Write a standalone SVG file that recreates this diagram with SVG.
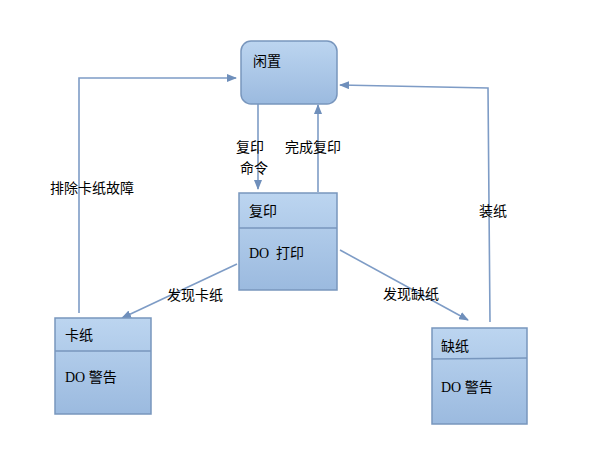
<svg xmlns="http://www.w3.org/2000/svg" width="611" height="463" viewBox="0 0 611 463">
<style>
.box{stroke:#7896bd;stroke-width:1.5;fill:url(#g)}
.div{stroke:#7896bd;stroke-width:1.5}
.ln{stroke:#7e9cc6;stroke-width:1.6;fill:none}
.t{font-family:"Noto Sans CJK SC",sans-serif;font-size:14px;fill:#000}
.d{font-family:"Liberation Serif","Noto Sans CJK SC",serif;font-size:14px;fill:#000}
</style>
<defs>
<linearGradient id="g" x1="0" y1="0" x2="0" y2="1">
<stop offset="0" stop-color="#bcd5f0"/>
<stop offset="1" stop-color="#9bbadf"/>
</linearGradient>
<marker id="a" markerWidth="10" markerHeight="8" refX="9" refY="4" orient="auto" markerUnits="userSpaceOnUse">
<path d="M0,0 L10,4 L0,8 Z" fill="#6f8fbb"/>
</marker>
</defs>
<rect width="611" height="463" fill="#fff"/>
<g id="connectors">
<path class="ln" d="M258,104 V189" marker-end="url(#a)"/>
<path class="ln" d="M318,192 V105" marker-end="url(#a)"/>
<path class="ln" d="M79,313 V78 H236" marker-end="url(#a)"/>
<path class="ln" d="M490,322 L488,88 L340,85" marker-end="url(#a)"/>
<path class="ln" d="M237,264 L122,318" marker-end="url(#a)"/>
<path class="ln" d="M340,250 L468,320" marker-end="url(#a)"/>
<text class="t" x="236" y="152">复印</text>
<text class="t" x="240" y="173">命令</text>
<text class="t" x="285" y="152">完成复印</text>
<text class="t" x="50" y="193">排除卡纸故障</text>
<text class="t" x="479" y="216">装纸</text>
<text class="t" x="167" y="300">发现卡纸</text>
<text class="t" x="383" y="299">发现缺纸</text>
</g>
<g id="idle">
<rect class="box" x="241" y="41" width="96" height="63" rx="10"/>
<text class="t" x="253" y="66">闲置</text>
</g>
<g id="copy">
<rect class="box" x="239" y="193" width="98" height="97"/>
<line class="div" x1="239" y1="228" x2="337" y2="228"/>
<text class="t" x="249" y="216">复印</text>
<text class="d" x="249" y="258">DO<tspan x="276" font-family="Noto Sans CJK SC">打印</tspan></text>
</g>
<g id="jam">
<rect class="box" x="55" y="318" width="96" height="96"/>
<line class="div" x1="55" y1="351" x2="151" y2="351"/>
<text class="t" x="65" y="340">卡纸</text>
<text class="d" x="65" y="382">DO <tspan font-family="Noto Sans CJK SC">警告</tspan></text>
</g>
<g id="nopaper">
<rect class="box" x="432" y="328" width="95" height="96"/>
<line class="div" x1="432" y1="359" x2="527" y2="358"/>
<text class="t" x="441" y="351">缺纸</text>
<text class="d" x="441" y="392">DO <tspan font-family="Noto Sans CJK SC">警告</tspan></text>
</g>
</svg>
